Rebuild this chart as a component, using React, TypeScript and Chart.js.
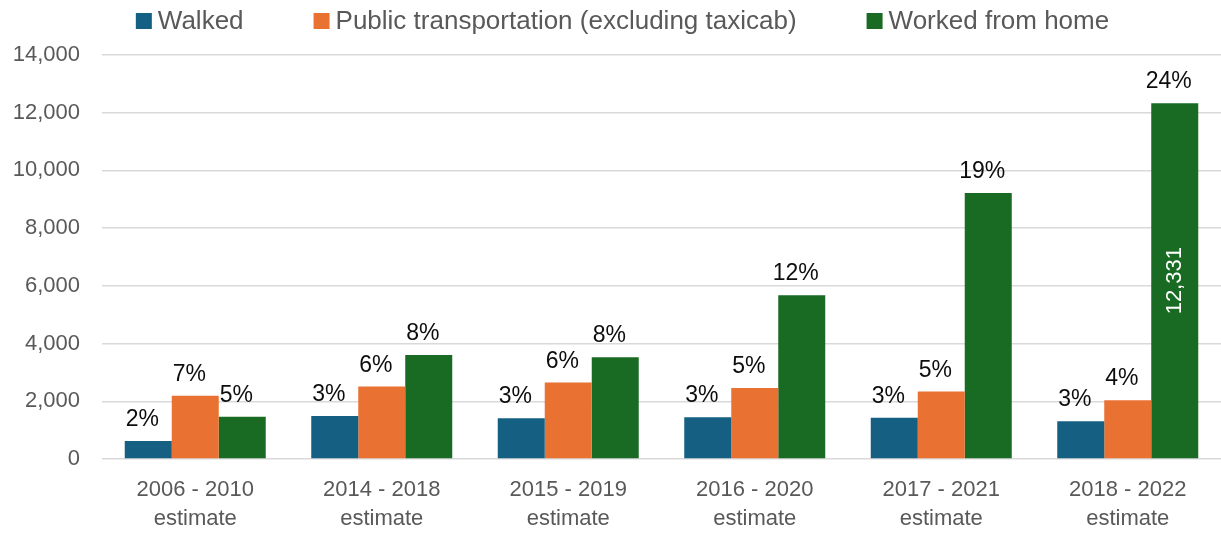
import { useEffect, useRef } from "react";
import { Chart, registerables } from "chart.js";

Chart.register(...registerables);

const categories: string[][] = [
  ["2006 - 2010", "estimate"],
  ["2014 - 2018", "estimate"],
  ["2015 - 2019", "estimate"],
  ["2016 - 2020", "estimate"],
  ["2017 - 2021", "estimate"],
  ["2018 - 2022", "estimate"],
];

const seriesNames = ["Walked", "Public transportation (excluding taxicab)", "Worked from home"];

const walked = [625, 1490, 1410, 1445, 1433, 1306];
const publicTransit = [2196, 2509, 2647, 2462, 2335, 2035];
const workedFromHome = [1468, 3607, 3526, 5674, 9220, 12331];

const walkedPct = ["2%", "3%", "3%", "3%", "3%", "3%"];
const publicPct = ["7%", "6%", "6%", "5%", "5%", "4%"];
const homePct = ["5%", "8%", "8%", "12%", "19%", "24%"];

// value label shown inside the bar (Worked from home, last period)
const insideValueSeries = 2;
const insideValueIndex = 5;

const yMin = 0;
const yMax = 14000;
const yStep = 2000;

const colors = ["#156082", "#E97132", "#196B24"];
const FONT = "'Liberation Sans', Arial, sans-serif";

const pctLabels = [walkedPct, publicPct, homePct];

const labelPlugin = {
  id: "barLabels",
  afterDatasetsDraw(chart: any) {
    const ctx = chart.ctx;
    ctx.save();
    chart.data.datasets.forEach((ds: any, di: number) => {
      const meta = chart.getDatasetMeta(di);
      meta.data.forEach((bar: any, i: number) => {
        const txt = pctLabels[di][i];
        ctx.font = `23px ${FONT}`;
        ctx.fillStyle = "#0d0d0d";
        ctx.textAlign = "center";
        ctx.textBaseline = "alphabetic";
        ctx.fillText(txt, bar.x - 6, bar.y - 15);
        if (di === insideValueSeries && i === insideValueIndex) {
          const v = ds.data[i] as number;
          ctx.save();
          ctx.translate(bar.x, (bar.y + bar.base) / 2);
          ctx.rotate(-Math.PI / 2);
          ctx.font = `22px ${FONT}`;
          ctx.fillStyle = "#ffffff";
          ctx.textAlign = "center";
          ctx.textBaseline = "middle";
          ctx.fillText(v.toLocaleString("en-US"), 0, 0);
          ctx.restore();
        }
      });
    });
    ctx.restore();
  },
};

const legendPlugin = {
  id: "customLegend",
  afterDraw(chart: any) {
    const ctx = chart.ctx;
    ctx.save();
    ctx.font = `26px ${FONT}`;
    const box = 16;
    const gapText = 6;
    const spacing = 70;
    const items = chart.data.datasets.map((ds: any) => ({
      label: ds.label as string,
      color: ds.backgroundColor as string,
      w: box + gapText + ctx.measureText(ds.label).width,
    }));
    const total = items.reduce((s: number, it: any) => s + it.w, 0) + spacing * (items.length - 1);
    let x = (chart.width - total) / 2 + 12;
    const cy = 21;
    items.forEach((it: any) => {
      ctx.fillStyle = it.color;
      ctx.fillRect(x, cy - box / 2, box, box);
      ctx.fillStyle = "#595959";
      ctx.textAlign = "left";
      ctx.textBaseline = "middle";
      ctx.fillText(it.label, x + box + gapText, cy + 1);
      x += it.w + spacing;
    });
    ctx.restore();
  },
};

export default function App() {
  const ref = useRef<HTMLCanvasElement>(null);

  useEffect(() => {
    if (!ref.current) return;
    const chart = new Chart(ref.current, {
      type: "bar",
      data: {
        labels: categories,
        datasets: [
          { label: seriesNames[0], data: walked, backgroundColor: colors[0] },
          { label: seriesNames[1], data: publicTransit, backgroundColor: colors[1] },
          { label: seriesNames[2], data: workedFromHome, backgroundColor: colors[2] },
        ],
      },
      options: {
        responsive: false,
        animation: false,
        datasets: {
          bar: { categoryPercentage: 0.756, barPercentage: 1, borderWidth: 0 },
        },
        layout: { padding: { top: 55, left: 0, right: 0, bottom: 0 } },
        plugins: {
          legend: { display: false },
          tooltip: { enabled: false },
        },
        scales: {
          x: {
            grid: { display: false },
            border: { display: false },
            ticks: {
              color: "#595959",
              font: { family: FONT, size: 22, lineHeight: 1.3 },
              padding: 9,
              maxRotation: 0,
              autoSkip: false,
            },
            afterFit: (scale: any) => {
              scale.height = 74;
            },
          },
          y: {
            min: yMin,
            max: yMax,
            border: { display: false },
            grid: { color: "#d9d9d9", lineWidth: 1.5, drawTicks: false },
            ticks: {
              stepSize: yStep,
              color: "#595959",
              font: { family: FONT, size: 22 },
              padding: 22,
              callback: (v: any) => Number(v).toLocaleString("en-US"),
            },
            afterFit: (scale: any) => {
              scale.width = 102;
            },
          },
        },
      },
      plugins: [labelPlugin, legendPlugin],
    });
    return () => chart.destroy();
  }, []);

  return (
    <div style={{ position: "absolute", left: 0, top: 0, width: 1221, height: 533, background: "#fff" }}>
      <canvas ref={ref} width={1221} height={533} />
    </div>
  );
}
